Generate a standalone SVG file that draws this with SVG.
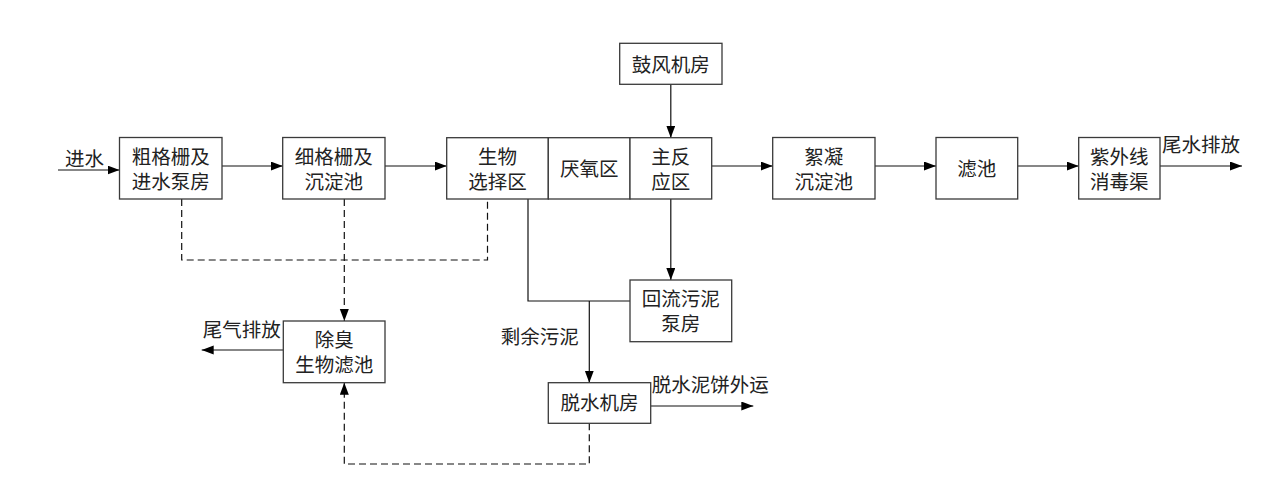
<svg xmlns="http://www.w3.org/2000/svg" width="1273" height="486" viewBox="0 0 1273 486">
<style>
.box{fill:#fff;stroke:#3a3a3a;stroke-width:1.3}
.ln{fill:none;stroke:#111;stroke-width:1.2}
.dash{fill:none;stroke:#111;stroke-width:1.2;stroke-dasharray:7,4}
text{font-family:"Noto Sans CJK SC","Noto Sans",sans-serif;font-size:19.5px;fill:#222}
.c{text-anchor:middle}
</style>
<defs>
<marker id="ah" markerUnits="userSpaceOnUse" markerWidth="13" markerHeight="10" refX="12" refY="4.5" orient="auto">
<path d="M0,0 L12,4.5 L0,9 z" fill="#000"/>
</marker>
</defs>
<rect width="1273" height="486" fill="#fff"/>
<g id="connectors">
<path class="ln" d="M58,170 H119.5" marker-end="url(#ah)"/>
<path class="ln" d="M222,166 H282.7" marker-end="url(#ah)"/>
<path class="ln" d="M385,166 H446.7" marker-end="url(#ah)"/>
<path class="ln" d="M711.7,166 H772.7" marker-end="url(#ah)"/>
<path class="ln" d="M875,166 H936" marker-end="url(#ah)"/>
<path class="ln" d="M1017.7,166 H1078.7" marker-end="url(#ah)"/>
<path class="ln" d="M1160,166 H1242" marker-end="url(#ah)"/>
<path class="ln" d="M670.8,84.3 V137.7" marker-end="url(#ah)"/>
<path class="ln" d="M670.8,199 V280" marker-end="url(#ah)"/>
<path class="ln" d="M528,199 V301 H630"/>
<path class="ln" d="M589.3,301 V382.7" marker-end="url(#ah)"/>
<path class="ln" d="M650.7,406 H753.3" marker-end="url(#ah)"/>
<path class="ln" d="M283.3,350 H201.7" marker-end="url(#ah)"/>
<path class="dash" d="M181.7,199 V260 H487.5 V199"/>
<path class="dash" d="M344.3,199 V321" marker-end="url(#ah)"/>
<path class="dash" d="M589.3,423.3 V464 H344.3 V382.7" marker-end="url(#ah)"/>
<text x="65" y="166">进水</text>
<text x="1162" y="151.5">尾水排放</text>
<text x="202.7" y="336.7">尾气排放</text>
<text x="500.7" y="344">剩余污泥</text>
<text x="651.7" y="392.4">脱水泥饼外运</text>
</g>
<g id="n1"><rect class="box" x="119.5" y="137.5" width="102.5" height="61.5"/><text class="c" x="170.7" y="164">粗格栅及</text><text class="c" x="170.7" y="188.5">进水泵房</text></g>
<g id="n2"><rect class="box" x="282.7" y="137.5" width="102.3" height="61.5"/><text class="c" x="333.8" y="164">细格栅及</text><text class="c" x="333.8" y="188.5">沉淀池</text></g>
<g id="n3"><rect class="box" x="446.7" y="137.7" width="101.6" height="61.3"/><text class="c" x="497.5" y="164">生物</text><text class="c" x="497.5" y="188.5">选择区</text></g>
<g id="n4"><rect class="box" x="548.3" y="137.7" width="81.7" height="61.3"/><text class="c" x="589.2" y="176">厌氧区</text></g>
<g id="n5"><rect class="box" x="630" y="137.7" width="81.7" height="61.3"/><text class="c" x="670.8" y="164">主反</text><text class="c" x="670.8" y="188.5">应区</text></g>
<g id="n6"><rect class="box" x="619.7" y="43.3" width="102.3" height="41"/><text class="c" x="670.8" y="71.7">鼓风机房</text></g>
<g id="n7"><rect class="box" x="772.7" y="137.5" width="102.3" height="61.5"/><text class="c" x="823.8" y="164">絮凝</text><text class="c" x="823.8" y="188.5">沉淀池</text></g>
<g id="n8"><rect class="box" x="936" y="137.5" width="81.7" height="61.5"/><text class="c" x="976.8" y="176">滤池</text></g>
<g id="n9"><rect class="box" x="1078.7" y="137.5" width="81.3" height="61.5"/><text class="c" x="1119.3" y="164">紫外线</text><text class="c" x="1119.3" y="188.5">消毒渠</text></g>
<g id="n10"><rect class="box" x="283.3" y="321" width="101.7" height="61.7"/><text class="c" x="334.2" y="347.4">除臭</text><text class="c" x="334.2" y="371.7">生物滤池</text></g>
<g id="n11"><rect class="box" x="630" y="280" width="101.7" height="61.7"/><text class="c" x="680.8" y="305.7">回流污泥</text><text class="c" x="680.8" y="330.7">泵房</text></g>
<g id="n12"><rect class="box" x="548.3" y="382.7" width="102.4" height="40.6"/><text class="c" x="599.5" y="409.7">脱水机房</text></g>
</svg>
